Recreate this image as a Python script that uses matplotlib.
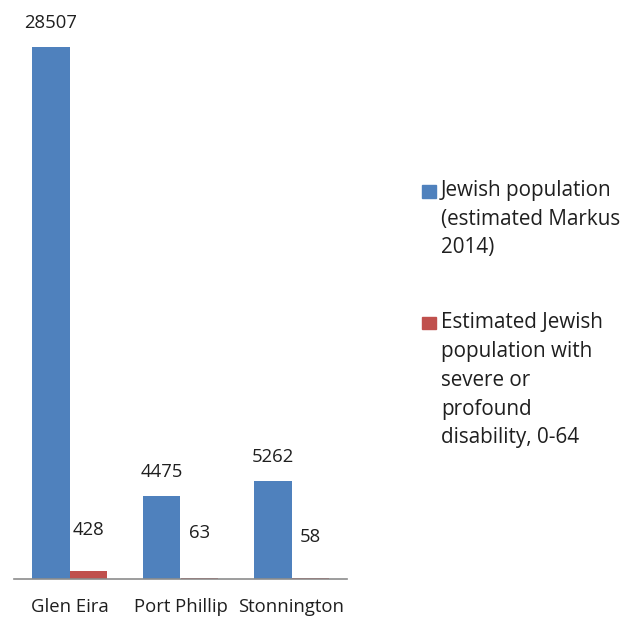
import matplotlib
matplotlib.use("Agg")
import matplotlib.pyplot as plt
from matplotlib.patches import Rectangle

plt.rcParams['font.family'] = ['Open Sans', 'DejaVu Sans']

categories = ["Glen Eira", "Port Phillip", "Stonnington"]
jewish_population = [28507, 4475, 5262]
disability_population = [428, 63, 58]
legend_labels = [
    ["Jewish population", "(estimated Markus", "2014)"],
    ["Estimated Jewish", "population with", "severe or", "profound", "disability, 0-64"],
]

BLUE = "#4F81BD"
RED = "#C0504D"
TEXT = "#1f1f1f"
W, H = 641, 617
FS = 13.3
FS_LEG = 14.9

fig = plt.figure(figsize=(W / 100, H / 100), dpi=100)
ax = fig.add_axes([14 / W, (H - 579) / H, 333 / W, 559.5 / H])

x = list(range(len(categories)))
bw = 0.338
xb = [i - bw / 2 for i in x]
xr = [i + bw / 2 for i in x]
ax.bar(xb, jewish_population, width=bw, color=BLUE, zorder=2)
ax.bar(xr, disability_population, width=bw, color=RED, zorder=2)

for xi, v in zip(xb, jewish_population):
    ax.annotate(str(v), (xi, v), xytext=(0, 24), textcoords="offset pixels",
                ha="center", va="center", fontsize=FS, color=TEXT)
red_offsets = [41, 45, 41]
for xi, v, off in zip(xr, disability_population, red_offsets):
    ax.annotate(str(v), (xi, v), xytext=(0, off), textcoords="offset pixels",
                ha="center", va="center", fontsize=FS, color=TEXT)

ax.set_xlim(-0.5, 2.5)
ax.set_ylim(0, 30000)
ax.set_xticks(x)
ax.set_xticklabels(categories, fontsize=FS, color=TEXT)
ax.tick_params(axis="x", length=0, pad=14)
ax.set_yticks([])
for s in ["left", "right", "top"]:
    ax.spines[s].set_visible(False)
ax.spines["bottom"].set_color("#8c8c8c")
ax.spines["bottom"].set_linewidth(1.2)
ax.spines["bottom"].set_zorder(3)

# legend drawn in figure pixel coordinates
def px(xp, yp):
    return xp / W, 1 - yp / H

legend_items = [(BLUE, 191.5, 28.5, legend_labels[0]), (RED, 323, 29, legend_labels[1])]
for color, y0, step, lines in legend_items:
    fig.patches.append(Rectangle(px(422, y0 + 6), 13.5 / W, 12.5 / H,
                                 transform=fig.transFigure, color=color,
                                 figure=fig))
    for k, line in enumerate(lines):
        fx, fy = px(441, y0 - 1 + k * step)
        fig.text(fx, fy, line, ha="left", va="center", fontsize=FS_LEG, color=TEXT)

fig.savefig("out.png", dpi=100)
